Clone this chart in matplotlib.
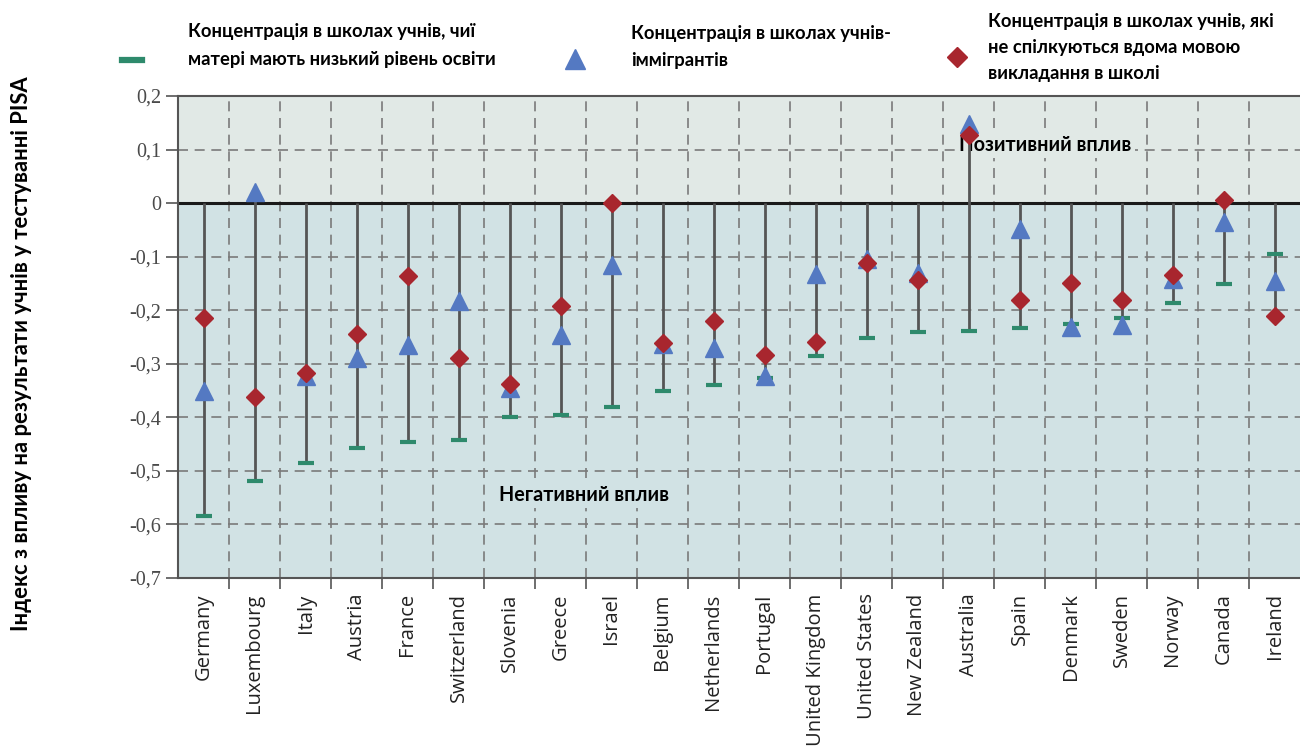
import matplotlib
matplotlib.use("Agg")
import matplotlib.pyplot as plt
import numpy as np
from matplotlib.ticker import FixedLocator, FuncFormatter

countries = ["Germany", "Luxembourg", "Italy", "Austria", "France", "Switzerland",
             "Slovenia", "Greece", "Israel", "Belgium", "Netherlands", "Portugal",
             "United Kingdom", "United States", "New Zealand", "Australia", "Spain",
             "Denmark", "Sweden", "Norway", "Canada", "Ireland"]

low_edu_mothers = [-0.585, -0.519, -0.486, -0.458, -0.446, -0.443, -0.400, -0.395,
                   -0.380, -0.350, -0.340, -0.326, -0.286, -0.252, -0.240, -0.239,
                   -0.234, -0.225, -0.215, -0.187, -0.151, -0.095]
immigrants = [-0.350, 0.020, -0.322, -0.290, -0.265, -0.183, -0.345, -0.247,
              -0.115, -0.263, -0.270, -0.323, -0.133, -0.105, -0.130, 0.147,
              -0.048, -0.232, -0.228, -0.142, -0.035, -0.145]
other_language = [-0.215, -0.362, -0.318, -0.245, -0.136, -0.290, -0.338, -0.193,
                  0.000, -0.261, -0.221, -0.283, -0.260, -0.112, -0.144, 0.128,
                  -0.181, -0.150, -0.181, -0.134, 0.006, -0.211]

yticks = [0.2, 0.1, 0, -0.1, -0.2, -0.3, -0.4, -0.5, -0.6, -0.7]

legend_low = "Концентрація в школах учнів, чиї\nматері мають низький рівень освіти"
legend_imm = "Концентрація в школах учнів-\nіммігрантів"
legend_lang = "Концентрація в школах учнів, які\nне спілкуються вдома мовою\nвикладання в школі"
ylabel = "Індекс з впливу на результати учнів у тестуванні PISA"
pos_text = "Позитивний вплив"
neg_text = "Негативний вплив"

GREEN = "#2E8A6C"
BLUE = "#5479C2"
RED = "#A8262E"
STEM = "#555555"
BG_UP = "#E1E9E6"
BG_DOWN = "#D1E2E4"
GRID = "#7A7A7A"

bold_font = ["Lato", "DejaVu Sans"]
tick_font = ["Open Sans", "DejaVu Sans"]
serif_font = ["Liberation Serif", "DejaVu Serif"]

fig = plt.figure(figsize=(13, 7.49), dpi=100)
ax = fig.add_axes([178/1300, 1-578/749, (1300-178)/1300, (578-96)/749])

n = len(countries)
x = np.arange(n)
ymin, ymax = -0.7, 0.2
ax.set_xlim(-0.5, n - 0.5)
ax.set_ylim(ymin, ymax)

# backgrounds
ax.axhspan(0, ymax, color=BG_UP, zorder=0, lw=0)
ax.axhspan(ymin, 0, color=BG_DOWN, zorder=0, lw=0)

# grid
for yv in yticks:
    if yv != 0:
        ax.axhline(yv, color=GRID, lw=1.2, ls=(0, (6, 4)), zorder=1)
for b in np.arange(0.5, n - 0.5, 1):
    ax.axvline(b, color=GRID, lw=1.2, ls=(0, (6, 4)), zorder=1)
ax.axhline(0, color="#1a1a1a", lw=2.2, zorder=2)

# annotations (behind stems and markers, masking the grid)
ax.text(14.82, 0.108, pos_text, fontsize=14.2, fontweight="bold", family=bold_font,
        ha="left", va="center", zorder=2.5,
        bbox=dict(boxstyle="square,pad=0.15", fc=BG_UP, ec="none"))
ax.text(5.79, -0.545, neg_text, fontsize=14.2, fontweight="bold", family=bold_font,
        ha="left", va="center", zorder=2.5,
        bbox=dict(boxstyle="square,pad=0.15", fc=BG_DOWN, ec="none"))

# stems
for i in range(n):
    vals = [low_edu_mothers[i], immigrants[i], other_language[i], 0]
    lo = min(vals)
    hi = max(0, max(other_language[i], low_edu_mothers[i]),
             immigrants[i] - 0.01 if immigrants[i] > 0 else 0)
    ax.plot([x[i], x[i]], [lo, hi], color=STEM, lw=2.0, zorder=3, solid_capstyle="butt")

ax.plot(x, low_edu_mothers, ls="none", marker="_", ms=12, mew=3, color=GREEN, zorder=4)
ax.plot(x, immigrants, ls="none", marker="^", ms=13, color=BLUE, mec=BLUE, zorder=5)
ax.plot(x, other_language, ls="none", marker="D", ms=9.5, color=RED, mec=RED, zorder=6)

# axes styling
for s in ["left", "bottom", "top"]:
    ax.spines[s].set_color("#555555")
    ax.spines[s].set_linewidth(1.5)
ax.spines["right"].set_visible(False)

ax.set_yticks(yticks)
ax.yaxis.set_major_formatter(FuncFormatter(lambda v, p: "0" if abs(v) < 1e-9 else f"{v:.1f}".replace(".", ",")))
ax.tick_params(axis="y", length=9, width=1.2, color="#555555", labelsize=14.5,
               labelcolor="#4a4a4a", pad=3)
for lab in ax.get_yticklabels():
    lab.set_family(serif_font)

ax.set_xticks(x)
ax.set_xticklabels(countries, rotation=90, fontsize=14.5, color="#222222", family=tick_font)
ax.xaxis.set_minor_locator(FixedLocator(np.arange(0.5, n - 0.5, 1)))
ax.tick_params(axis="x", which="major", length=0, pad=11)
ax.tick_params(axis="x", which="minor", length=8, width=1.2, color="#555555")

# y label
fig.text(22/1300, 1-354/749, ylabel, rotation=90, ha="center", va="center",
         fontsize=15.8, fontweight="bold", family=bold_font)

# legend
T = fig.transFigure
def fx(px): return px / 1300
def fy(py): return 1 - py / 749
fig.add_artist(plt.Line2D([fx(122), fx(142)], [fy(60), fy(60)], color=GREEN, lw=4.5, transform=T))
fig.text(fx(188), fy(45.5), legend_low, fontsize=13.2, fontweight="bold", family=bold_font,
         ha="left", va="center", linespacing=1.84)
fig.add_artist(plt.Line2D([fx(575)], [fy(59)], marker="^", ms=14, color=BLUE, transform=T, ls="none"))
fig.text(fx(631), fy(47), legend_imm, fontsize=13.2, fontweight="bold", family=bold_font,
         ha="left", va="center", linespacing=1.67)
fig.add_artist(plt.Line2D([fx(957)], [fy(57)], marker="D", ms=10, color=RED, transform=T, ls="none"))
fig.text(fx(988), fy(47.5), legend_lang, fontsize=13.2, fontweight="bold", family=bold_font,
         ha="left", va="center", linespacing=1.64)

fig.savefig("out.png", dpi=100)
